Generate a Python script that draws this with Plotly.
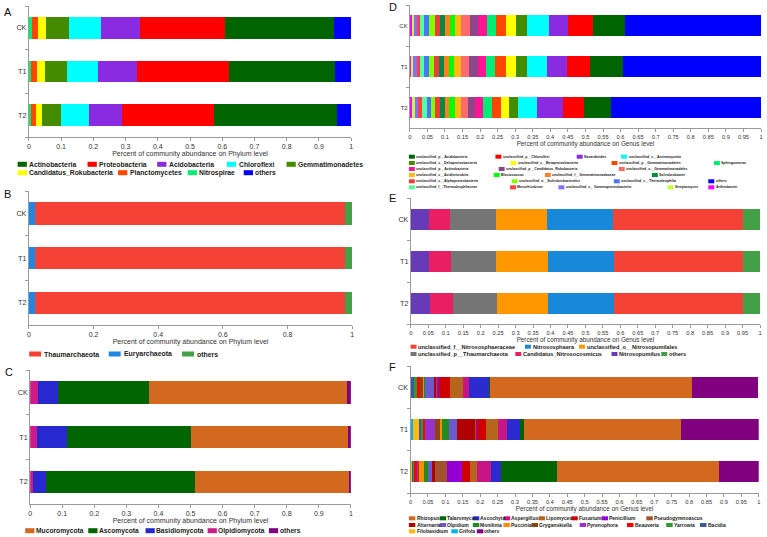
import plotly.graph_objects as go

W, H = 767, 537
samples = ["CK", "T1", "T2"]

# ---------------- DATA ----------------
# Panel A: bacteria, phylum level (legend order)
a_taxa = ["Actinobacteria", "Proteobacteria", "Acidobacteria", "Chloroflexi", "Gemmatimonadetes",
          "Candidatus_Rokubacteria", "Planctomycetes", "Nitrospirae", "others"]
a_ck = [0.338, 0.265, 0.121, 0.100, 0.071, 0.025, 0.0175, 0.010, 0.0525]
a_t1 = [0.329, 0.284, 0.120, 0.097, 0.068, 0.026, 0.0175, 0.007, 0.0515]
a_t2 = [0.382, 0.284, 0.101, 0.087, 0.059, 0.021, 0.014, 0.007, 0.045]
a_colors = ["#006400", "#FF0000", "#8A2BE2", "#00FFFF", "#458B00", "#FFFF00", "#FF4500", "#00EE76", "#0000FF"]

# Panel B: archaea, phylum level
b_taxa = ["Thaumarchaeota", "Euryarchaeota", "others"]
b_ck = [0.958, 0.0185, 0.0235]
b_t1 = [0.9585, 0.0185, 0.023]
b_t2 = [0.958, 0.0185, 0.0235]
b_colors = ["#F44336", "#1E88E5", "#43A047"]

# Panel C: fungi, phylum level
c_taxa = ["Mucoromycota", "Ascomycota", "Basidiomycota", "Olpidiomycota", "others"]
c_ck = [0.618, 0.282, 0.064, 0.024, 0.012]
c_t1 = [0.491, 0.386, 0.094, 0.020, 0.009]
c_t2 = [0.480, 0.466, 0.039, 0.010, 0.005]
c_colors = ["#D2691E", "#006400", "#2828D0", "#CD1C8A", "#800080"]

# Panel D: bacteria, genus level (legend order, row by row)
d_taxa = ["unclassified_p__Acidobacteria", "unclassified_p__Chloroflexi", "Nocardioides",
          "unclassified_c__Actinomycetia",
          "unclassified_c__Deltaproteobacteria", "unclassified_c__Betaproteobacteria",
          "unclassified_p__Gemmatimonadetes", "Sphingomonas",
          "unclassified_p__Actinobacteria", "unclassified_p__Candidatus_Rokubacteria",
          "unclassified_o__Gemmatimonadales",
          "unclassified_c__Acidimicrobiia", "Blastococcus", "unclassified_f__Gemmatimonadaceae",
          "Solirubrobacter",
          "unclassified_c__Alphaproteobacteria", "unclassified_o__Solirubrobacterales",
          "unclassified_c__Thermoleophilia", "others",
          "unclassified_f__Thermoleophilaceae", "Mesorhizobium", "unclassified_c__Gammaproteobacteria",
          "Streptomyces", "Arthrobacter"]
d_ck = [0.0896, 0.0708, 0.0547, 0.0623,
        0.0311, 0.0283, 0.0292, 0.0255,
        0.0264, 0.0236, 0.0245,
        0.0172, 0.0153, 0.0143, 0.0143,
        0.0143, 0.0143, 0.0143, 0.3887,
        0.0134, 0.0077, 0.0095, 0.0060, 0.0050]
d_t1 = [0.0934, 0.0660, 0.0557, 0.0575,
        0.0312, 0.0302, 0.0292, 0.0255,
        0.0245, 0.0236, 0.0255,
        0.0188, 0.0142, 0.0142, 0.0132,
        0.0142, 0.0142, 0.0142, 0.3934,
        0.0123, 0.0085, 0.0105, 0.0050, 0.0050]
d_t2 = [0.0764, 0.0604, 0.0736, 0.0528,
        0.0264, 0.0236, 0.0236, 0.0274,
        0.0217, 0.0198, 0.0217,
        0.0160, 0.0179, 0.0113, 0.0123,
        0.0142, 0.0123, 0.0123, 0.4283,
        0.0123, 0.0113, 0.0094, 0.0075, 0.0075]
d_colors = ["#006400", "#FF0000", "#8A2BE2", "#00FFFF",
            "#458B00", "#FFFF00", "#FF4500", "#00EE76",
            "#FF1493", "#8B4789", "#FF6A6A",
            "#FFB90F", "#00FF00", "#FF7F24", "#008B45",
            "#EE3B3B", "#7FFF00", "#4876FF", "#0000FF",
            "#54FF9F", "#FF4040", "#8470FF", "#C0FF3E", "#FF00FF"]

# Panel E: archaea, genus level
e_taxa = ["unclassified_f__Nitrososphaeraceae", "Nitrososphaera", "unclassified_o__Nitrosopumilales",
          "unclassified_p__Thaumarchaeota", "Candidatus_Nitrosocosmicus", "Nitrosopumilus", "others"]
e_ck = [0.373, 0.190, 0.146, 0.131, 0.059, 0.053, 0.048]
e_t1 = [0.370, 0.190, 0.149, 0.129, 0.061, 0.053, 0.048]
e_t2 = [0.370, 0.188, 0.146, 0.128, 0.065, 0.055, 0.048]
e_colors = ["#F44336", "#1888D8", "#FF9800", "#757575", "#E91E63", "#673AB7", "#43A047"]

# Panel F: fungi, genus level
f_taxa = ["Rhizopus", "Talaromyces", "Ascochyta", "Aspergillus", "Lipomyces", "Fusarium", "Penicillium",
          "Pseudogymnoascus", "Alternaria", "Olpidium", "Monilinia", "Puccinia", "Gryganskiella",
          "Pyrenophora", "Beauveria", "Yarrowia", "Bacidia", "Filobasidium", "Grifola", "others"]
f_ck = [0.581, 0.003, 0.057, 0.017, 0.037, 0.031, 0.008, 0.002, 0.004, 0.0276, 0.003, 0.002,
        0.0075, 0.002, 0.0075, 0.0095, 0.0095, 0.0, 0.0, 0.190]
f_t1 = [0.451, 0.011, 0.038, 0.027, 0.033, 0.026, 0.002, 0.003, 0.052, 0.024, 0.019, 0.0067,
        0.015, 0.027, 0.0057, 0.0057, 0.0076, 0.016, 0.0076, 0.223]
f_t2 = [0.464, 0.162, 0.027, 0.041, 0.020, 0.022, 0.043, 0.037, 0.007, 0.011, 0.013, 0.013,
        0.003, 0.004, 0.007, 0.003, 0.003, 0.003, 0.002, 0.116]
f_colors = ["#D2691E", "#006400", "#2B2BD0", "#C71585", "#B5651D", "#D00000", "#9400D3",
            "#A0522D", "#B00000", "#6A5ACD", "#228B22", "#FF8C00", "#8B4513",
            "#9932CC", "#FF0000", "#2E9B2E", "#3D5A9E", "#FFB90F", "#00B2EE", "#800080"]

# tick labels
tick_tenth = [0, 0.1, 0.2, 0.3, 0.4, 0.5, 0.6, 0.7, 0.8, 0.9, 1]
tick_tenth_txt = ["0", "0.1", "0.2", "0.3", "0.4", "0.5", "0.6", "0.7", "0.8", "0.9", "1"]
tick_fifth = [0, 0.2, 0.4, 0.6, 0.8, 1]
tick_fifth_txt = ["0", "0.2", "0.4", "0.6", "0.8", "1"]
tick_twentieth = [0, 0.05, 0.1, 0.15, 0.2, 0.25, 0.3, 0.35, 0.4, 0.45, 0.5,
                  0.55, 0.6, 0.65, 0.7, 0.75, 0.8, 0.85, 0.9, 0.95, 1]
tick_twentieth_txt = ["0", "0.05", "0.1", "0.15", "0.2", "0.25", "0.3", "0.35", "0.4", "0.45", "0.5",
                      "0.55", "0.6", "0.65", "0.7", "0.75", "0.8", "0.85", "0.9", "0.95", "1"]

title_phylum = "Percent of community abundance on Phylum level"
title_genus = "Percent of community abundance on Genus level"

# ---------------- LAYOUT SPEC (pixels) ----------------
FONT = "Liberation Sans, Arial, sans-serif"
panels = [
    dict(letter="A", taxa=a_taxa, colors=a_colors, vals=[a_ck, a_t1, a_t2],
         xpx=(27, 351), ypx=(6, 137), ticks=(tick_tenth, tick_tenth_txt), title=title_phylum,
         tickfs=7, catfs=7.2, titlefs=7, lab=(6, 12),
         leg=dict(fs=6.8, sw=9.3, sh=5, gap=2.5, rows=[
             (164.3, [15.7, 86, 156, 226, 286]),
             (172.7, [15.7, 116.7, 186.7, 243])])),
    dict(letter="B", taxa=b_taxa, colors=b_colors, vals=[b_ck, b_t1, b_t2],
         xpx=(27, 352), ypx=(191, 325), ticks=(tick_fifth, tick_fifth_txt), title=title_phylum,
         tickfs=7, catfs=7.2, titlefs=7, lab=(6, 194),
         leg=dict(fs=6.9, sw=12, sh=5, gap=3.4, rows=[
             (354, [27.3, 107.3, 181])])),
    dict(letter="C", taxa=c_taxa, colors=c_colors, vals=[c_ck, c_t1, c_t2],
         xpx=(28.3, 350.7), ypx=(370, 504), ticks=(tick_tenth, tick_tenth_txt), title=title_phylum,
         tickfs=7, catfs=7.2, titlefs=7, lab=(7, 372),
         leg=dict(fs=6.7, sw=9.3, sh=5, gap=1.5, rows=[
             (530.7, [23.3, 86.7, 144.3, 206.7, 268.3])])),
    dict(letter="D", taxa=d_taxa, colors=d_colors, vals=[d_ck, d_t1, d_t2],
         xpx=(410, 763), ypx=(5, 128), ticks=(tick_twentieth, tick_twentieth_txt), title=title_genus,
         tickfs=5.7, catfs=6, titlefs=6.3, lab=(393, 7),
         leg=dict(fs=3.5, sw=6, sh=4, gap=1.5, rows=[
             (156.7, [409, 496, 577.7, 622.3]),
             (163, [409, 511, 612.7, 715.7]),
             (169, [409, 499.3, 620]),
             (175, [409, 494.3, 545.7, 653.3]),
             (181.3, [409, 512.3, 615, 710]),
             (187.3, [409, 510.7, 559.3, 669, 710])])),
    dict(letter="E", taxa=e_taxa, colors=e_colors, vals=[e_ck, e_t1, e_t2],
         xpx=(411, 762), ypx=(198, 324), ticks=(tick_twentieth, tick_twentieth_txt), title=title_genus,
         tickfs=5.7, catfs=7.2, titlefs=6.3, lab=(393, 198),
         leg=dict(fs=5.6, sw=6, sh=4, gap=1.6, rows=[
             (346.7, [410.7, 525.7, 580]),
             (354, [410.7, 516, 612.7, 662.7])])),
    dict(letter="F", taxa=f_taxa, colors=f_colors, vals=[f_ck, f_t1, f_t2],
         xpx=(410.7, 760.7), ypx=(366, 493), ticks=(tick_twentieth, tick_twentieth_txt), title=title_genus,
         tickfs=5.7, catfs=7.2, titlefs=6.3, lab=(393, 367),
         leg=dict(fs=5.0, sw=6.5, sh=4, gap=1.2, rows=[
             (518.3, [409, 440, 473.3, 504.3, 539.3, 572.3, 602.7, 647.7]),
             (525, [409, 440, 473.3, 504, 532.3, 580.7, 628.3, 667.7, 701.7]),
             (531.3, [409, 451.7, 477.3])])),
]

AXIS_COL = "#9a9a9a"
TXT_COL = "#333333"

fig = go.Figure()
shapes = []
annotations = []
layout_axes = {}

for k, p in enumerate(panels):
    n = k + 1
    xa = "x" if n == 1 else f"x{n}"
    ya = "y" if n == 1 else f"y{n}"
    taxa, colors, vals = p["taxa"], p["colors"], p["vals"]
    oth = taxa.index("others")
    order = [i for i in reversed(range(len(taxa))) if i != oth] + [oth]
    for i in order:
        fig.add_trace(go.Bar(
            y=samples, x=[v[i] for v in vals], orientation="h", name=taxa[i],
            marker=dict(color=colors[i], line=dict(width=0)),
            xaxis=xa, yaxis=ya, showlegend=False,
            hovertemplate="%{y}: %{x:.3f}<extra>" + taxa[i] + "</extra>"))

    x0, x1 = p["xpx"]
    y0, y1 = p["ypx"]
    tv, tt = p["ticks"]
    layout_axes["xaxis" if n == 1 else f"xaxis{n}"] = dict(
        domain=[x0 / W, x1 / W], anchor=ya, range=[0, 1],
        tickvals=tv, ticktext=tt, ticks="outside", ticklen=3, tickwidth=1, tickcolor=AXIS_COL,
        showline=True, linecolor=AXIS_COL, linewidth=1, showgrid=False, zeroline=False,
        tickfont=dict(size=p["tickfs"], color=TXT_COL, family=FONT),
        title=dict(text=p["title"], font=dict(size=p["titlefs"], color=TXT_COL, family=FONT), standoff=1),
        fixedrange=True)
    layout_axes["yaxis" if n == 1 else f"yaxis{n}"] = dict(
        domain=[1 - y1 / H, 1 - y0 / H], anchor=xa, type="category",
        categoryorder="array", categoryarray=samples[::-1],
        ticks="outside", tickson="boundaries", ticklen=3, tickwidth=1, tickcolor=AXIS_COL,
        showline=True, linecolor=AXIS_COL, linewidth=1, showgrid=False, zeroline=False,
        tickfont=dict(size=p["catfs"], color=TXT_COL, family=FONT), fixedrange=True)

    # panel letter
    lx, ly = p["lab"]
    annotations.append(dict(text=p["letter"], x=lx / W, y=1 - ly / H, xref="paper", yref="paper",
                            xanchor="center", yanchor="middle", showarrow=False,
                            font=dict(size=11, color="#111111", family=FONT)))

    # legend (swatch + label), row by row in legend order
    lg = p["leg"]
    idx = 0
    for ry, xs in lg["rows"]:
        for sx in xs:
            name = taxa[idx]
            col = colors[idx]
            idx += 1
            shapes.append(dict(type="rect", xref="paper", yref="paper",
                               x0=sx / W, x1=(sx + lg["sw"]) / W,
                               y0=1 - (ry + lg["sh"] / 2) / H, y1=1 - (ry - lg["sh"] / 2) / H,
                               fillcolor=col, line=dict(width=0)))
            annotations.append(dict(text=name, x=(sx + lg["sw"] + lg["gap"]) / W, y=1 - ry / H,
                                    xref="paper", yref="paper", xanchor="left", yanchor="middle",
                                    showarrow=False, borderpad=0, borderwidth=0,
                                    font=dict(size=lg["fs"], color="#222222", family=FONT, weight="bold")))

fig.update_layout(
    width=W, height=H, autosize=False,
    margin=dict(l=0, r=0, t=0, b=0),
    paper_bgcolor="white", plot_bgcolor="white",
    barmode="stack", bargap=0.5,
    font=dict(family=FONT, color=TXT_COL),
    shapes=shapes, annotations=annotations,
    showlegend=False,
    **layout_axes)

fig.write_html("out.html")
